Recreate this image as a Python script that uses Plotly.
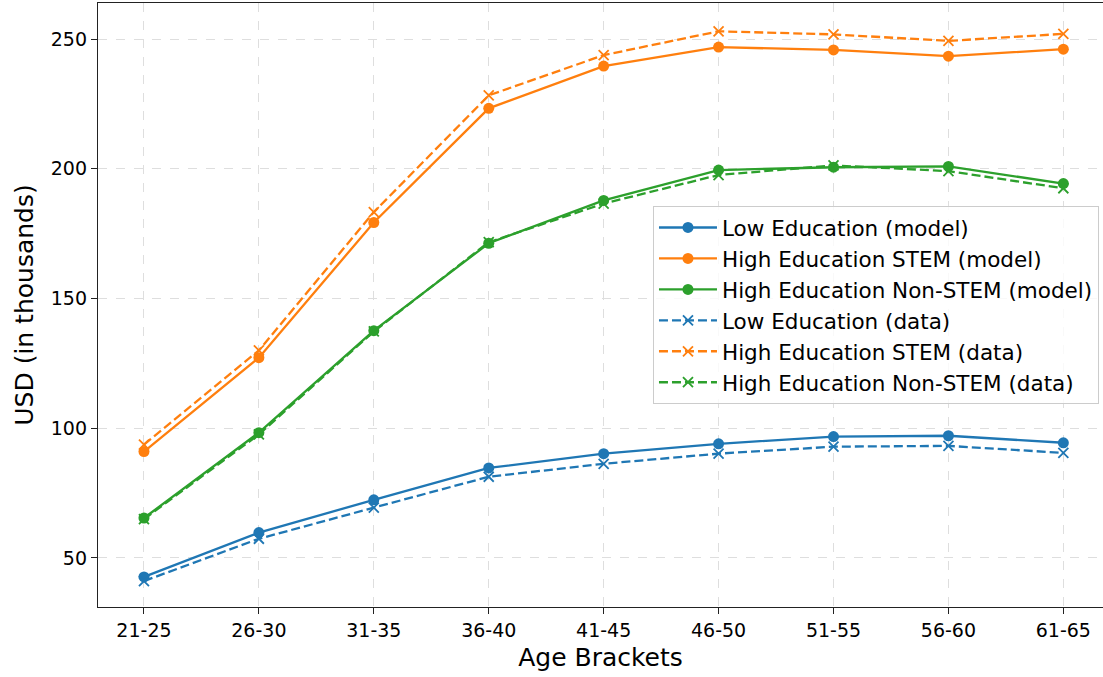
import plotly.graph_objects as go

# Age brackets on the x axis
age_brackets = ["21-25", "26-30", "31-35", "36-40", "41-45",
                "46-50", "51-55", "56-60", "61-65"]

# Annual earnings in thousands of USD, model predictions
low_edu_model = [42.7, 59.8, 72.4, 84.7, 90.2, 94.0, 96.8, 97.1, 94.4]
stem_model = [91.0, 127.2, 179.3, 223.3, 239.6, 246.9, 245.8, 243.4, 246.1]
nonstem_model = [65.4, 98.3, 137.6, 171.3, 187.8, 199.5, 200.6, 200.9, 194.3]

# Annual earnings in thousands of USD, observed data
low_edu_data = [41.1, 57.4, 69.4, 81.3, 86.3, 90.2, 92.9, 93.2, 90.5]
stem_data = [93.7, 130.0, 183.3, 228.3, 243.8, 253.0, 251.8, 249.3, 252.0]
nonstem_data = [65.0, 97.6, 137.3, 171.7, 186.6, 197.6, 201.3, 199.1, 192.5]

BLUE, ORANGE, GREEN = "#1f77b4", "#ff7f0e", "#2ca02c"
FONT = "DejaVu Sans"

fig = go.Figure()

model_series = [
    ("Low Education (model)", low_edu_model, BLUE),
    ("High Education STEM (model)", stem_model, ORANGE),
    ("High Education Non-STEM (model)", nonstem_model, GREEN),
]
data_series = [
    ("Low Education (data)", low_edu_data, BLUE),
    ("High Education STEM (data)", stem_data, ORANGE),
    ("High Education Non-STEM (data)", nonstem_data, GREEN),
]

x_idx = list(range(len(age_brackets)))

for name, vals, color in model_series:
    fig.add_trace(go.Scatter(
        x=x_idx, y=vals, name=name, mode="lines+markers",
        line=dict(color=color, width=2.3),
        marker=dict(symbol="circle", size=11, color=color),
    ))

for name, vals, color in data_series:
    fig.add_trace(go.Scatter(
        x=x_idx, y=vals, name=name, mode="lines+markers",
        line=dict(color=color, width=2.3, dash="9px,4px"),
        marker=dict(symbol="x-thin", size=10,
                    line=dict(color=color, width=1.8), color=color),
    ))

fig.update_layout(
    width=1103, height=677,
    margin=dict(l=98, r=0, t=3, b=70),
    paper_bgcolor="white", plot_bgcolor="white",
    font=dict(family=FONT, size=20, color="black"),
    showlegend=True,
    legend=dict(
        x=0.996, y=0.50, xanchor="right", yanchor="middle",
        bgcolor="rgba(255,255,255,0.8)", bordercolor="#cccccc", borderwidth=1,
        font=dict(family=FONT, size=21.5, color="black"),
        itemwidth=58,
    ),
)

fig.update_xaxes(
    tickmode="array", tickvals=x_idx, ticktext=age_brackets,
    range=[-0.4, 8.345],
    showline=True, linecolor="#222222", linewidth=1.3, mirror=True,
    ticks="outside", ticklen=6, tickcolor="#222222", tickwidth=1.2,
    showgrid=True, gridcolor="#dedede", griddash="dash", gridwidth=1,
    zeroline=False,
    tickfont=dict(family=FONT, size=19),
    title=dict(text="Age Brackets", font=dict(family=FONT, size=25), standoff=8),
)

fig.update_yaxes(
    tickvals=[50, 100, 150, 200, 250],
    range=[31.1, 263.9],
    showline=True, linecolor="#222222", linewidth=1.3, mirror=False,
    ticks="outside", ticklen=6, tickcolor="#222222", tickwidth=1.2,
    showgrid=True, gridcolor="#dedede", griddash="dash", gridwidth=1,
    zeroline=False,
    tickfont=dict(family=FONT, size=19),
    title=dict(text="USD (in thousands)", font=dict(family=FONT, size=25), standoff=10),
)

fig.write_html("out.html")
